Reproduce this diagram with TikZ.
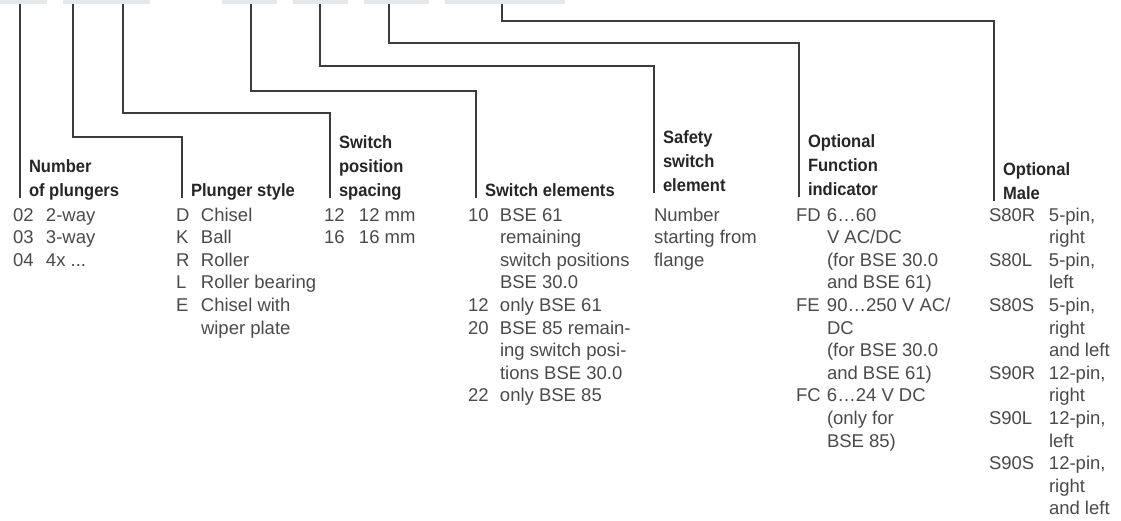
\documentclass[tikz,border=0pt]{standalone}
\usepackage{fontspec}
\setmainfont{Liberation Sans}
\newfontfamily\headfont[FakeStretch=0.93]{Liberation Sans}
\usepackage{xcolor}
\usepackage{tikz}

\definecolor{fieldgray}{HTML}{E6E7E8}
\definecolor{linegray}{HTML}{3C3C3C}
\definecolor{bodygray}{HTML}{4A4A4A}
\definecolor{headgray}{HTML}{262626}

\newcommand\headlines[1]{\begin{tabular}[b]{@{}l@{}}#1\end{tabular}}
\newcommand\codelist[2]{\begin{tabular}[t]{@{}p{#1}@{}l@{}}#2\end{tabular}}

\tikzset{
  conn/.style={linegray, line width=1.2pt},
  head/.style={anchor=base west, inner xsep=9pt, inner ysep=0pt, outer sep=0pt,
    text=headgray, font=\headfont\bfseries\fontsize{17.8}{24}\selectfont},
  body/.style={anchor=base west, inner sep=0pt, outer sep=0pt,
    text=bodygray, font=\fontsize{18.5}{22.6}\selectfont},
}

\begin{document}
\begin{tikzpicture}[x=1pt, y=-1pt]
  \useasboundingbox (0,0) rectangle (1121,520);
  % code fields at the top edge
  \foreach \a/\b in {0/47, 63/150, 222/277, 293/348, 364/429, 445/565}{
    \fill[fieldgray] (\a,0) rectangle (\b,4);
  }
  % headings
  \node[head] (hnum)  at (20,196)  {\headlines{Number\\of plungers}};
  \node[head] (hsty)  at (182,196) {\headlines{Plunger style}};
  \node[head] (hspc)  at (330,196) {\headlines{Switch\\position\\spacing}};
  \node[head] (helem) at (476,196) {\headlines{Switch elements}};
  \node[head] (hsafe) at (654,191) {\headlines{Safety\\switch\\element}};
  \node[head] (hfunc) at (799,195) {\headlines{Optional\\Function\\indicator}};
  \node[head] (hmale) at (994,199) {\headlines{Optional\\Male}};

  % connectors
  \coordinate (t1) at (20,4);
  \coordinate (t2) at (73,4);   \coordinate (k2) at (73,137);
  \coordinate (t3) at (123,4);  \coordinate (k3) at (123,113);
  \coordinate (t4) at (251,4);  \coordinate (k4) at (251,91);
  \coordinate (t5) at (320,4);  \coordinate (k5) at (320,66);
  \coordinate (t6) at (389,4);  \coordinate (k6) at (389,43);
  \coordinate (t7) at (502,4);  \coordinate (k7) at (502,21);
  \draw[conn] (t1) -- ([yshift=-2pt]hnum.base west);
  \draw[conn] (t2) -- (k2) -| ([yshift=-2pt]hsty.base west);
  \draw[conn] (t3) -- (k3) -| ([yshift=-2pt]hspc.base west);
  \draw[conn] (t4) -- (k4) -| ([yshift=-2pt]helem.base west);
  \draw[conn] (t5) -- (k5) -| ([yshift=-2pt]hsafe.base west);
  \draw[conn] (t6) -- (k6) -| ([yshift=-2pt]hfunc.base west);
  \draw[conn] (t7) -- (k7) -| ([yshift=-2pt]hmale.base west);

  % code lists
  \node[body] (lnum) at (13,221) {\codelist{33pt}{02 & 2-way\\03 & 3-way\\04 & 4x ...}};
  \node[body] (lsty) at (176,221) {\codelist{25pt}{D & Chisel\\K & Ball\\R & Roller\\
    L & Roller bearing\\E & Chisel with\\ & wiper plate}};
  \node[body] (lspc) at (324,221) {\codelist{35pt}{12 & 12 mm\\16 & 16 mm}};
  \node[body] (lelem) at (468,221) {\codelist{32pt}{10 & BSE 61\\ & remaining\\
    & switch positions\\ & BSE 30.0\\12 & only BSE 61\\20 & BSE 85 remain-\\
    & ing switch posi-\\ & tions BSE 30.0\\22 & only BSE 85}};
  \node[body] (lsafe) at (654,221) {\codelist{0pt}{& Number\\ & starting from\\ & flange}};
  \node[body] (lfunc) at (796,221) {\codelist{31pt}{FD & 6…60\\ & V AC/DC\\
    & (for BSE 30.0\\ & and BSE 61)\\FE & 90…250 V AC/\\ & DC\\
    & (for BSE 30.0\\ & and BSE 61)\\FC & 6…24 V DC\\ & (only for\\ & BSE 85)}};
  \node[body] (lmale) at (989,221) {\codelist{60pt}{S80R & 5-pin,\\ & right\\
    S80L & 5-pin,\\ & left\\S80S & 5-pin,\\ & right\\ & and left\\
    S90R & 12-pin,\\ & right\\S90L & 12-pin,\\ & left\\
    S90S & 12-pin,\\ & right\\ & and left}};
\end{tikzpicture}
\end{document}
